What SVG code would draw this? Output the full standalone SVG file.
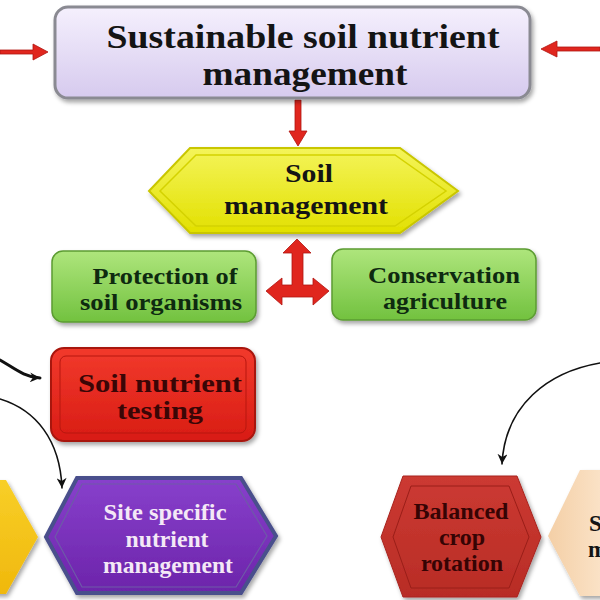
<svg xmlns="http://www.w3.org/2000/svg" width="600" height="600" viewBox="0 0 600 600">
<style>
.t{font-family:"Liberation Serif","Times New Roman",serif;font-weight:bold;text-anchor:middle}
.dk{fill:#141414}
.conn{fill:none;stroke:#111;stroke-linecap:round}
.red{fill:#e0261e;stroke:#b01410;stroke-width:0.8}
</style>
<defs>
<linearGradient id="gLav" x1="0" y1="0" x2="0" y2="1"><stop offset="0" stop-color="#f5f0fd"/><stop offset="1" stop-color="#d6caee"/></linearGradient>
<linearGradient id="gYel" x1="0" y1="0" x2="0" y2="1"><stop offset="0" stop-color="#f4f45a"/><stop offset="1" stop-color="#e2e000"/></linearGradient>
<linearGradient id="gGreen" x1="0" y1="0" x2="0" y2="1"><stop offset="0" stop-color="#aee57c"/><stop offset="1" stop-color="#72c23f"/></linearGradient>
<linearGradient id="gRed" x1="0" y1="0" x2="0" y2="1"><stop offset="0" stop-color="#f23a2c"/><stop offset="1" stop-color="#d81c14"/></linearGradient>
<linearGradient id="gPur" x1="0" y1="0" x2="0" y2="1"><stop offset="0" stop-color="#8840cc"/><stop offset="1" stop-color="#6c24aa"/></linearGradient>
<linearGradient id="gDred" x1="0" y1="0" x2="0" y2="1"><stop offset="0" stop-color="#cc3a32"/><stop offset="1" stop-color="#b82c26"/></linearGradient>
<linearGradient id="gPeach" x1="0" y1="0" x2="1" y2="0"><stop offset="0" stop-color="#f4cfa6"/><stop offset="1" stop-color="#fde9d2"/></linearGradient>
<linearGradient id="gGold" x1="0" y1="0" x2="0" y2="1"><stop offset="0" stop-color="#f8cf28"/><stop offset="1" stop-color="#f0b80c"/></linearGradient>
<filter id="sh" x="-10%" y="-10%" width="130%" height="140%"><feDropShadow dx="2" dy="3" stdDeviation="2" flood-color="#000" flood-opacity="0.35"/></filter>
<marker id="ah" viewBox="0 0 10 10" refX="10" refY="5" markerWidth="11" markerHeight="10" markerUnits="userSpaceOnUse" orient="auto"><path d="M0,0 L10,5 L0,10 L3,5 Z" fill="#111"/></marker>
</defs>

<g id="connectors">
<path class="red" d="M0,50 L33,50 L33,44 L48,52 L33,60 L33,54 L0,54 Z"/>
<path class="red" d="M600,47 L557,47 L557,41 L541,49 L557,57 L557,51 L600,51 Z"/>
<path class="red" d="M295,100 L301,100 L301,131 L307,131 L298,146 L289,131 L295,131 Z"/>
<path class="red" d="M297,239 L311,253 L303,253 L303,285 L313,285 L313,278 L329,291 L313,305 L313,297 L282,297 L282,305 L266,291 L282,278 L282,285 L292,285 L292,253 L283,253 Z"/>
<path class="conn" d="M0,360 C14,368 24,377 40,378" stroke-width="3" marker-end="url(#ah)"/>
<path class="conn" d="M0,399 C36,410 60,440 62,488" stroke-width="1.6" marker-end="url(#ah)"/>
<path class="conn" d="M600,363 C548,372 505,405 502,464" stroke-width="1.6" marker-end="url(#ah)"/>
</g>

<g id="n-top">
<rect x="55" y="7" width="475" height="91" rx="13" fill="url(#gLav)" stroke="#8a8a92" stroke-width="3" filter="url(#sh)"/>
<text class="t dk" x="303" y="48" font-size="34" textLength="393" lengthAdjust="spacingAndGlyphs">Sustainable soil nutrient</text>
<text class="t dk" x="305" y="85" font-size="34" textLength="205" lengthAdjust="spacingAndGlyphs">management</text>
</g>

<g id="n-soil">
<polygon points="149,191 190,148 400,148 458,191 400,233 190,233" fill="url(#gYel)" stroke="#c9c600" stroke-width="2" filter="url(#sh)"/>
<polygon points="160,191 196,155 395,155 446,191 395,226 196,226" fill="none" stroke="#d4d200" stroke-width="1.5"/>
<text class="t dk" x="309" y="182" font-size="25" textLength="48" lengthAdjust="spacingAndGlyphs">Soil</text>
<text class="t dk" x="306" y="214" font-size="25" textLength="164" lengthAdjust="spacingAndGlyphs">management</text>
</g>

<g id="n-protect">
<rect x="52" y="251" width="204" height="71" rx="11" fill="url(#gGreen)" stroke="#5c9c32" stroke-width="1.5" filter="url(#sh)"/>
<text class="t" fill="#0e2a10" x="165" y="284" font-size="23" textLength="145" lengthAdjust="spacingAndGlyphs">Protection of</text>
<text class="t" fill="#0e2a10" x="161" y="310" font-size="23" textLength="162" lengthAdjust="spacingAndGlyphs">soil organisms</text>
</g>

<g id="n-conserv">
<rect x="332" y="249" width="204" height="71" rx="11" fill="url(#gGreen)" stroke="#5c9c32" stroke-width="1.5" filter="url(#sh)"/>
<text class="t" fill="#0e2a10" x="444" y="283" font-size="23" textLength="152" lengthAdjust="spacingAndGlyphs">Conservation</text>
<text class="t" fill="#0e2a10" x="445" y="309" font-size="23" textLength="124" lengthAdjust="spacingAndGlyphs">agriculture</text>
</g>

<g id="n-testing">
<rect x="51" y="348" width="204" height="93" rx="13" fill="url(#gRed)" stroke="#a8140e" stroke-width="2" filter="url(#sh)"/>
<rect x="60" y="356" width="186" height="77" rx="6" fill="none" stroke="#b8160f" stroke-width="1"/>
<text class="t" fill="#3a0606" x="160" y="392" font-size="25" textLength="164" lengthAdjust="spacingAndGlyphs">Soil nutrient</text>
<text class="t" fill="#3a0606" x="160" y="419" font-size="25" textLength="86" lengthAdjust="spacingAndGlyphs">testing</text>
</g>

<g id="n-gold">
<polygon points="-30,480 6,480 38,537 6,594 -30,594" fill="url(#gGold)" filter="url(#sh)"/>
</g>

<g id="n-site">
<polygon points="46,537 77,478 241,478 276,536 241,593 77,593" fill="url(#gPur)" stroke="#4a4f8c" stroke-width="4" filter="url(#sh)"/>
<polygon points="55,537 82,484 236,484 267,536 236,587 82,587" fill="none" stroke="#6e5aa8" stroke-width="1.2"/>
<text class="t" fill="#f4e8f6" x="165" y="520" font-size="23" textLength="123" lengthAdjust="spacingAndGlyphs">Site specific</text>
<text class="t" fill="#f4e8f6" x="167" y="547" font-size="23" textLength="83" lengthAdjust="spacingAndGlyphs">nutrient</text>
<text class="t" fill="#f4e8f6" x="168" y="573" font-size="23" textLength="130" lengthAdjust="spacingAndGlyphs">management</text>
</g>

<g id="n-rotation">
<polygon points="381,537 403,476 517,476 541,537 517,597 403,597" fill="url(#gDred)" stroke="#a8241e" stroke-width="1" filter="url(#sh)"/>
<polygon points="393,537 411,486 509,486 529,537 509,588 411,588" fill="none" stroke="#9a1e18" stroke-width="1"/>
<text class="t" fill="#360404" x="461" y="519" font-size="24" textLength="95" lengthAdjust="spacingAndGlyphs">Balanced</text>
<text class="t" fill="#360404" x="462" y="545" font-size="24">crop</text>
<text class="t" fill="#360404" x="462" y="571" font-size="24">rotation</text>
</g>

<g id="n-peach">
<polygon points="548,536 580,470 620,470 620,596 580,596" fill="url(#gPeach)" filter="url(#sh)"/>
<text class="t dk" x="589" y="531" font-size="23" style="text-anchor:start">S</text>
<text class="t dk" x="588" y="557" font-size="23" style="text-anchor:start">m</text>
</g>
</svg>
